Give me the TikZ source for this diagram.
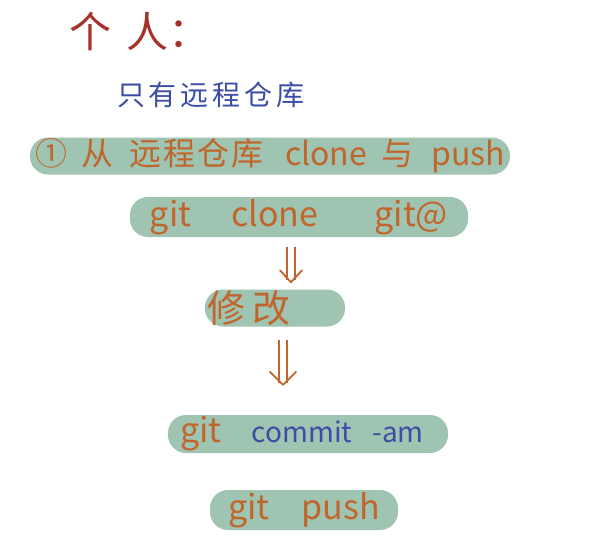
\documentclass[tikz,border=0pt]{standalone}
\usepackage{fontspec}
\setmainfont{Noto Sans CJK SC}
\usetikzlibrary{calc}
\definecolor{hlgreen}{HTML}{9FC4B1}
\definecolor{inkorange}{HTML}{C0662C}
\definecolor{inkblue}{HTML}{3C4DA6}
\definecolor{inkred}{HTML}{A5312A}
\newcommand{\fs}[1]{\fontsize{#1pt}{#1pt}\selectfont}
\begin{document}
\begin{tikzpicture}[x=1pt,y=-1pt,
  pill/.style={fill=hlgreen, rounded corners=18pt, inner sep=0pt, text=inkorange},
  dblline/.style={draw=inkorange, line width=1.7pt, double, double distance=6pt},
  vtip/.style={draw=inkorange, line width=1.8pt, line cap=round, line join=round}]
\fill[white] (0,0) rectangle (598,544);
\node[text=inkred, font=\fs{42}] (h1) at (140,31) {个\hspace{16pt}人：};
\node[text=inkblue, font=\fs{28}] (h2) at (211,95) {只\hspace{4pt}有\hspace{4pt}远\hspace{4pt}程\hspace{4pt}仓\hspace{4pt}库};
\node[pill, minimum width=480pt, minimum height=37pt, font=\fs{32}] (b1) at (270,156)
  {①\hspace{14pt}从\hspace{16pt}远\hspace{2pt}程\hspace{2pt}仓\hspace{2pt}库\hspace{22pt}clone\hspace{14pt}与\hspace{18pt}push};
\node[pill, minimum width=338pt, minimum height=40pt, font=\fs{34}] (b2) at (299,217)
  {git\hspace{40pt}clone\hspace{56pt}git@};
\node[pill, minimum width=140pt, minimum height=37pt, text width=136pt, align=left, font=\fs{38}] (b3) at (275,308)
  {修\hspace{8pt}改};
\node[pill, minimum width=280pt, minimum height=38pt] (b4) at (308,434)
  {\hspace{-12pt}{\fs{34}git}\hspace{30pt}\textcolor{inkblue}{\fs{28}commit\hspace{20pt}-am}\hspace{12pt}};
\node[pill, minimum width=188pt, minimum height=40pt, font=\fs{34}] (b5) at (304,510)
  {git\hspace{32pt}push};
\coordinate (a1) at (291,0);
\coordinate (a2) at (283,0);
\coordinate (e1) at ($(b3.north -| a1)+(0,-7)$);
\coordinate (e2) at ($(b4.north -| a2)+(0,-30)$);
\draw[dblline, shorten <=10pt, shorten >=2pt] (b2.south -| a1) -- (e1);
\draw[vtip] ([shift={(-11,-12)}]e1) -- (e1) -- ([shift={(11,-12)}]e1);
\draw[dblline, shorten <=13pt, shorten >=2pt] (b3.south -| a2) -- (e2);
\draw[vtip] ([shift={(-13,-13)}]e2) -- (e2) -- ([shift={(13,-13)}]e2);
\end{tikzpicture}
\end{document}
